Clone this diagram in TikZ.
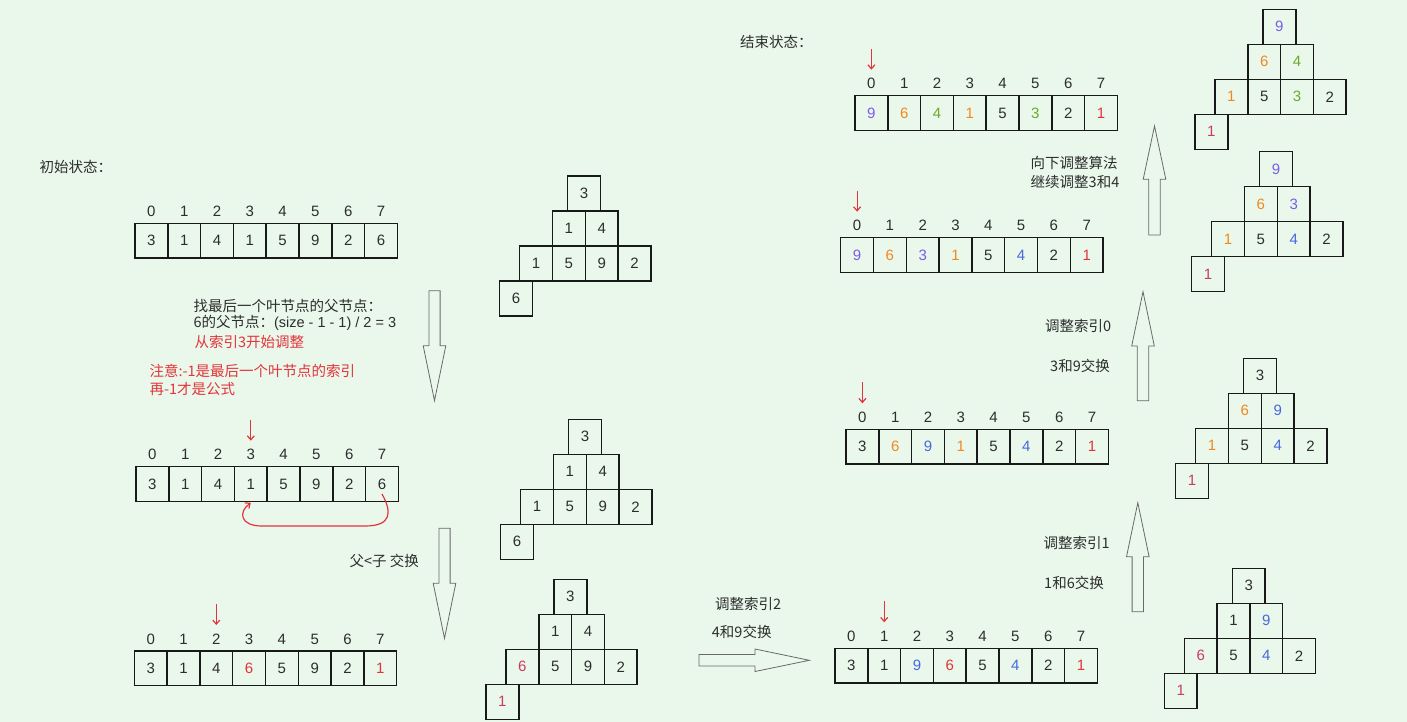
\documentclass[tikz,border=0pt]{standalone}
\usepackage{fontspec}
\setmainfont{Liberation Sans}
\newfontfamily\cjk{Noto Sans CJK SC}
\newfontfamily\arialf{Liberation Sans}
\usetikzlibrary{arrows.meta,calc}
\definecolor{bgc}{RGB}{234,248,236}
\definecolor{tx}{RGB}{45,45,45}
\definecolor{bk}{RGB}{25,25,25}
\definecolor{rd}{RGB}{226,52,58}
\definecolor{pk}{RGB}{200,60,100}
\definecolor{og}{RGB}{240,136,30}
\definecolor{gn}{RGB}{108,170,40}
\definecolor{pu}{RGB}{122,92,232}
\definecolor{bl}{RGB}{70,104,222}
\definecolor{ol}{RGB}{105,105,105}
\tikzset{
  cell/.style={draw=bk, line width=1.5pt, minimum width=32.8pt, minimum height=34.6pt, inner sep=0pt, outer sep=0pt, font=\fontsize{15}{18}\selectfont},
  tcell/.style={draw=bk, line width=1.5pt, minimum width=32.8pt, minimum height=35pt, inner sep=0pt, outer sep=0pt, font=\fontsize{15}{18}\selectfont},
  idx/.style={text=tx, inner sep=0pt, font=\fontsize{15}{18}\selectfont},
  txt/.style={text=tx, anchor=west, inner sep=0pt, font=\cjk\fontsize{14.5}{18}\selectfont},
  rtxt/.style={txt, text=rd},
  redarrow/.style={draw=rd, line width=1.2pt, -{Straight Barb[length=4pt,width=7pt]}},
  hollow/.style={draw=ol, line width=0.8pt, line join=miter},
}
\newcommand\drawarr[5]{%
  \foreach \cc/\vv [count=\i from 0] in {#4}{%
    \node[cell, text=\cc] (#1\i) at ({#2+(\i+0.5)*32.8},{#3+17.3}) {\vv};
    \node[idx] (#1i\i) at ({#2+(\i+0.5)*32.8},{#3-12}) {\i};
  }%
  \ifnum#5>-1
    \coordinate (#1p) at ({#2+(#5+0.5)*32.8},{#3-47});
    \coordinate (#1q) at ({#2+(#5+0.5)*32.8},{#3-26});
    \draw[redarrow] (#1p) -- (#1q);
  \fi
}
\newcommand\drawtree[4]{%
  \foreach \cc/\vv [count=\i from 0] in {#4}{%
    \pgfmathsetmacro\dx{{48,32.8,65.6,0,32.8,65.6,98.4,-20}[\i]}%
    \pgfmathsetmacro\dy{{0,1,1,2,2,2,2,3}[\i]}%
    \node[tcell, text=\cc] (#1\i) at ({#2+\dx+16.4},{#3+\dy*35+17.5}) {\vv};
  }%
}
% vertical hollow arrows
\newcommand\vup[4]{% cx, tip y, head base y, bottom y
  \draw[hollow] (#1,#2) -- (#1+11.3,#3) -- (#1+5.7,#3) -- (#1+5.7,#4) -- (#1-5.7,#4) -- (#1-5.7,#3) -- (#1-11.3,#3) -- cycle;}
\newcommand\vdown[4]{% cx, top y, head base y, tip y
  \draw[hollow] (#1-5.6,#2) -- (#1+5.6,#2) -- (#1+5.6,#3) -- (#1+11.3,#3) -- (#1,#4) -- (#1-11.3,#3) -- (#1-5.6,#3) -- cycle;}
\begin{document}
\begin{tikzpicture}[x=1pt,y=-1pt]
\fill[bgc] (0,0) rectangle (1407,722);
\useasboundingbox (0,0) rectangle (1407,722);

% ---------- arrays ----------
\drawarr{A}{135}{223.3}{tx/3,tx/1,tx/4,tx/1,tx/5,tx/9,tx/2,tx/6}{-1}
\drawarr{B}{136}{466.7}{tx/3,tx/1,tx/4,tx/1,tx/5,tx/9,tx/2,tx/6}{3}
\drawarr{C}{134.3}{651}{tx/3,tx/1,tx/4,rd/6,tx/5,tx/9,tx/2,rd/1}{2}
\drawarr{D}{835}{648.3}{tx/3,tx/1,bl/9,rd/6,tx/5,bl/4,tx/2,rd/1}{1}
\drawarr{E}{846}{429.3}{tx/3,og/6,bl/9,og/1,tx/5,bl/4,tx/2,rd/1}{0}
\drawarr{F}{840.7}{237.7}{pu/9,og/6,pu/3,og/1,tx/5,bl/4,tx/2,rd/1}{0}
\drawarr{G}{855}{95.7}{pu/9,og/6,gn/4,og/1,tx/5,gn/3,tx/2,rd/1}{0}

% ---------- trees ----------
\drawtree{Ta}{519.7}{176}{tx/3,tx/1,tx/4,tx/1,tx/5,tx/9,tx/2,tx/6}
\drawtree{Tb}{520.7}{419.3}{tx/3,tx/1,tx/4,tx/1,tx/5,tx/9,tx/2,tx/6}
\drawtree{Tc}{506}{579.3}{tx/3,tx/1,tx/4,pk/6,tx/5,tx/9,tx/2,pk/1}
\drawtree{Td}{1184.3}{568.3}{tx/3,tx/1,bl/9,pk/6,tx/5,bl/4,tx/2,pk/1}
\drawtree{Te}{1195.7}{358.3}{tx/3,og/6,bl/9,og/1,tx/5,bl/4,tx/2,pk/1}
\drawtree{Tf}{1215}{9.3}{pu/9,og/6,gn/4,og/1,tx/5,gn/3,tx/2,pk/1}
\drawtree{Tg}{1211.7}{151.7}{pu/9,og/6,pu/3,og/1,tx/5,bl/4,tx/2,pk/1}

% ---------- red swap curve ----------
\coordinate (cs) at ($(B7.center)+(0,10)$);
\coordinate (ce) at ($(B3.south)+(0,1.5)$);
\draw[draw=rd, line width=1.2pt, -{Straight Barb[length=4pt,width=7pt]}]
  (cs) .. controls (392,512) and (392,526) .. (365,526) -- (262,526)
  .. controls (240,526) and (238,512) .. (ce);

% ---------- hollow arrows ----------
\vdown{434.5}{290.7}{345.7}{400.7}
\vdown{444.5}{528.3}{583.3}{638.3}
\draw[hollow] (699,654.5) -- (755,654.5) -- (755,649) -- (809.3,660.3) -- (755,671.5) -- (755,666) -- (699,666) -- cycle;
\vup{1137.8}{502.7}{556.7}{611.7}
\vup{1143}{291.7}{346}{400.7}
\vup{1154.5}{126}{179.3}{235}

% ---------- texts ----------
\node[txt] (t0) at (39.3,167) {初始状态：};
\node[txt] (t1) at (193.3,305.7) {找最后一个叶节点的父节点：};
\node[txt] (t2) at (193.3,323.3) {6的父节点：{\arialf (size - 1 - 1) / 2 = 3}};
\node[rtxt] (t3) at (194.3,341.7) {从索引3开始调整};
\node[rtxt] (t4) at (149.3,370.7) {注意:-1是最后一个叶节点的索引};
\node[rtxt] (t5) at (149.3,389.3) {再-1才是公式};
\node[txt] (t6) at (349.3,560.7) {父<子 交换};
\node[txt] (t7) at (715,604) {调整索引2};
\node[txt] (t8) at (711.7,631.7) {4和9交换};
\node[txt] (t9) at (1043.3,542.7) {调整索引1};
\node[txt] (t10) at (1044,582.7) {1和6交换};
\node[txt] (t11) at (1045,326) {调整索引0};
\node[txt] (t12) at (1050,366) {3和9交换};
\node[txt] (t13) at (1030.5,162.7) {向下调整算法};
\node[txt] (t14) at (1030.5,181.7) {继续调整3和4};
\node[txt] (t15) at (740,41.7) {结束状态：};
\end{tikzpicture}
\end{document}
